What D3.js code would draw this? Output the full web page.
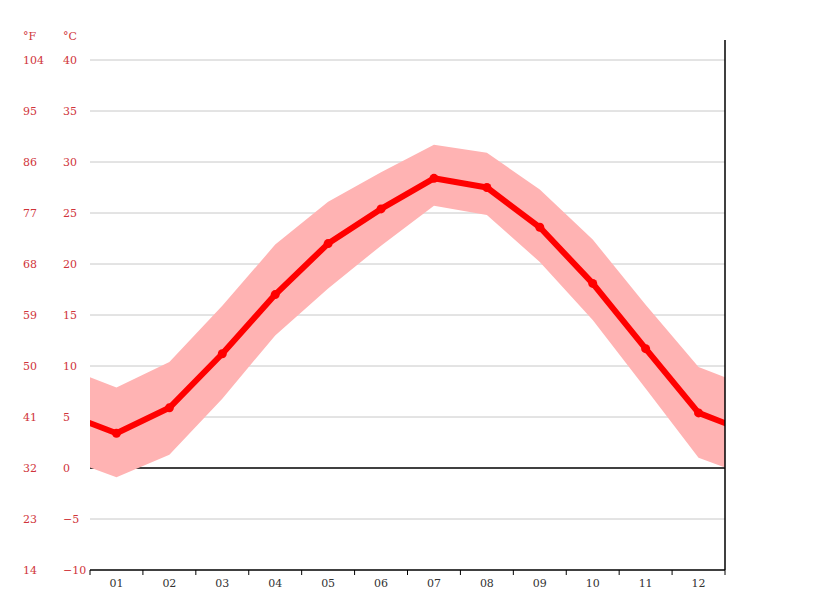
<!DOCTYPE html>
<html lang="en">
<head>
    <meta charset="UTF-8">
    <title>Climate chart</title>
    <script src="https://d3js.org/d3.v7.min.js"></script>
    <style>
        body { margin: 0; background: #fff; }
        text { font-family: "DejaVu Serif", "Liberation Serif", serif; font-size: 11px; }
    </style>
</head>
<body>
    <div id="chart"></div>
    <script>
        // monthly values (°C)
        const months = ["01", "02", "03", "04", "05", "06", "07", "08", "09", "10", "11", "12"];
        const avgTemp = [3.4, 5.9, 11.2, 17.0, 22.0, 25.4, 28.4, 27.5, 23.6, 18.1, 11.7, 5.4];
        const maxTemp = [7.9, 10.4, 15.9, 21.9, 26.1, 29.0, 31.7, 30.9, 27.3, 22.4, 16.0, 9.9];
        const minTemp = [-0.9, 1.3, 6.8, 13.0, 17.6, 21.8, 25.7, 24.8, 20.2, 14.5, 7.8, 1.0];
        const yTicks = [-10, -5, 0, 5, 10, 15, 20, 25, 30, 35, 40];

        const width = 815, height = 611;
        const mLeft = 90, mRight = 725, mTop = 60, mBottom = 570;

        const svg = d3.select("#chart").append("svg")
            .attr("width", width)
            .attr("height", height);

        const x = d3.scaleLinear().domain([0, 12]).range([mLeft, mRight]);
        const y = d3.scaleLinear().domain([-10, 40]).range([mBottom, mTop]);

        // grid lines
        svg.append("g")
            .selectAll("line")
            .data(yTicks.filter(t => t !== -10))
            .enter().append("line")
            .attr("x1", mLeft).attr("x2", mRight)
            .attr("y1", d => y(d)).attr("y2", d => y(d))
            .attr("stroke", d => d === 0 ? "#000" : "#c8c8c8")
            .attr("stroke-width", d => d === 0 ? 1.5 : 1);

        // wrap Dec before Jan and Jan after Dec so the lines run to the edges
        const idx = d3.range(-1, 13);
        const wrap = arr => idx.map(i => ({ m: i + 0.5, v: arr[(i + 12) % 12] }));

        svg.append("clipPath").attr("id", "plot")
            .append("rect")
            .attr("x", mLeft).attr("y", 0)
            .attr("width", mRight - mLeft).attr("height", height);

        const g = svg.append("g").attr("clip-path", "url(#plot)");

        const hi = wrap(maxTemp), lo = wrap(minTemp);
        const area = d3.area()
            .x(d => x(d.m))
            .y0((d, i) => y(lo[i].v))
            .y1(d => y(d.v));

        g.append("path")
            .datum(hi)
            .attr("d", area)
            .attr("fill", "#ffb3b3");

        const line = d3.line()
            .x(d => x(d.m))
            .y(d => y(d.v));

        g.append("path")
            .datum(wrap(avgTemp))
            .attr("d", line)
            .attr("fill", "none")
            .attr("stroke", "#ff0000")
            .attr("stroke-width", 6)
            .attr("stroke-linejoin", "round");

        svg.append("g")
            .selectAll("circle")
            .data(avgTemp)
            .enter().append("circle")
            .attr("cx", (d, i) => x(i + 0.5))
            .attr("cy", d => y(d))
            .attr("r", 4.5)
            .attr("fill", "#ff0000");

        // bottom axis
        svg.append("line")
            .attr("x1", mLeft).attr("x2", mRight)
            .attr("y1", mBottom).attr("y2", mBottom)
            .attr("stroke", "#000").attr("stroke-width", 1.5);

        svg.append("g")
            .selectAll("line")
            .data(d3.range(0, 13))
            .enter().append("line")
            .attr("x1", d => x(d)).attr("x2", d => x(d))
            .attr("y1", mBottom).attr("y2", mBottom + 5)
            .attr("stroke", "#000");

        svg.append("g")
            .selectAll("text")
            .data(months)
            .enter().append("text")
            .attr("x", (d, i) => x(i + 0.5))
            .attr("y", mBottom + 17)
            .attr("text-anchor", "middle")
            .attr("fill", "#333")
            .text(d => d);

        // right border
        svg.append("line")
            .attr("x1", mRight).attr("x2", mRight)
            .attr("y1", 40).attr("y2", mBottom)
            .attr("stroke", "#000").attr("stroke-width", 1.5);

        // y labels, °C and °F
        const red = "#d0343a";
        const fmt = d3.format("d");
        svg.append("g")
            .selectAll("text")
            .data(yTicks)
            .enter().append("text")
            .attr("x", 63)
            .attr("y", d => y(d))
            .attr("dy", "0.35em")
            .attr("fill", red)
            .text(d => fmt(d));

        svg.append("g")
            .selectAll("text")
            .data(yTicks)
            .enter().append("text")
            .attr("x", 23)
            .attr("y", d => y(d))
            .attr("dy", "0.35em")
            .attr("fill", red)
            .text(d => Math.round(d * 9 / 5 + 32));

        svg.append("text").attr("x", 23).attr("y", 36).attr("dy", "0.35em")
            .attr("fill", red).text("°F");
        svg.append("text").attr("x", 63).attr("y", 36).attr("dy", "0.35em")
            .attr("fill", red).text("°C");
    </script>
</body>
</html>
